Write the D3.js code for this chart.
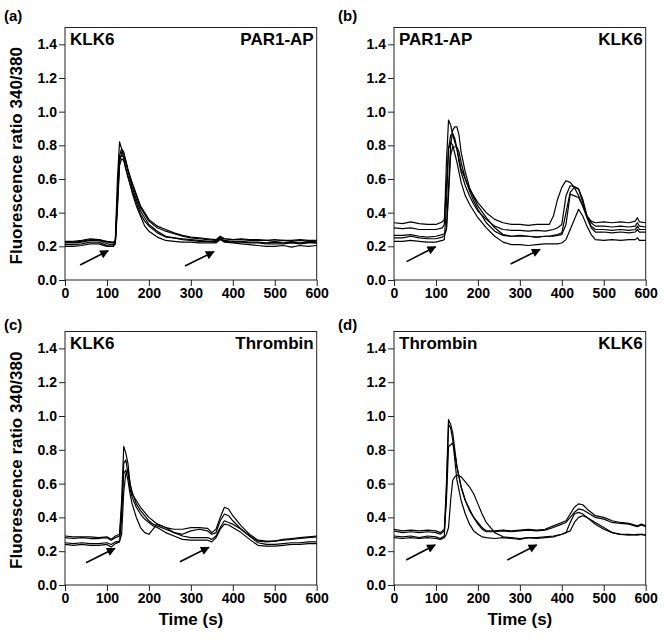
<!DOCTYPE html>
<html><head><meta charset="utf-8">
<script src="https://cdn.jsdelivr.net/npm/d3@7"></script>
<style>
html,body{margin:0;padding:0;background:#fff;}
svg{display:block;font-family:"Liberation Sans",Arial,sans-serif;font-weight:bold;}
</style></head>
<body><svg id="chart" width="671" height="644"></svg>
<script>
// ---------------- DATA ----------------
const panelTags = ["(a)", "(b)", "(c)", "(d)"];
const leftLabels = ["KLK6", "PAR1-AP", "KLK6", "Thrombin"];
const rightLabels = ["PAR1-AP", "KLK6", "Thrombin", "KLK6"];
const yTicks = [0, 0.2, 0.4, 0.6, 0.8, 1.0, 1.2, 1.4];
const xTicks = [0, 100, 200, 300, 400, 500, 600];
const yTitle = "Fluorescence ratio 340/380";
const xTitle = "Time (s)";

// Panel (a)
const timeA = [0,20,40,60,80,100,115,120,125,130,135,140,145,150,160,170,180,190,200,220,240,260,280,300,320,340,360,370,380,400,420,440,460,480,500,520,540,560,580,600];
const a1 = [0.22,0.22,0.225,0.235,0.235,0.215,0.21,0.24,0.60,0.82,0.78,0.72,0.66,0.62,0.52,0.44,0.38,0.32,0.29,0.255,0.235,0.23,0.225,0.225,0.22,0.22,0.22,0.24,0.225,0.22,0.215,0.21,0.205,0.20,0.20,0.205,0.195,0.205,0.20,0.205];
const a2 = [0.225,0.225,0.23,0.24,0.24,0.225,0.22,0.23,0.50,0.74,0.78,0.76,0.70,0.65,0.55,0.48,0.41,0.37,0.33,0.29,0.26,0.25,0.24,0.235,0.23,0.23,0.23,0.25,0.235,0.23,0.23,0.225,0.225,0.22,0.225,0.22,0.225,0.22,0.225,0.22];
const a3 = [0.21,0.21,0.215,0.225,0.225,0.205,0.20,0.22,0.45,0.70,0.76,0.75,0.71,0.66,0.57,0.50,0.43,0.39,0.35,0.31,0.29,0.275,0.26,0.25,0.245,0.24,0.235,0.255,0.245,0.24,0.24,0.235,0.235,0.235,0.23,0.235,0.23,0.235,0.23,0.23];
const a4 = [0.23,0.23,0.235,0.245,0.24,0.23,0.225,0.235,0.48,0.72,0.74,0.73,0.70,0.65,0.58,0.51,0.44,0.40,0.36,0.32,0.30,0.28,0.265,0.255,0.25,0.245,0.24,0.26,0.245,0.24,0.245,0.24,0.24,0.235,0.24,0.235,0.235,0.24,0.235,0.235];
const a5 = [0.20,0.20,0.205,0.215,0.215,0.20,0.20,0.215,0.42,0.68,0.72,0.71,0.66,0.61,0.53,0.46,0.39,0.35,0.32,0.28,0.255,0.25,0.245,0.24,0.235,0.23,0.225,0.245,0.23,0.225,0.225,0.22,0.22,0.215,0.215,0.215,0.22,0.215,0.22,0.22];
const arrowsA = [[36, 0.089, 103, 0.174], [286, 0.083, 355, 0.168]];

// Panel (b)
const timeB = [0,20,40,60,80,100,115,120,125,130,135,140,145,150,155,160,170,180,190,200,220,240,260,280,300,320,340,360,370,380,390,400,410,420,430,440,450,460,470,480,500,520,540,560,575,580,585,600];
const b1 = [0.34,0.335,0.345,0.335,0.33,0.33,0.345,0.36,0.55,0.78,0.86,0.87,0.84,0.78,0.72,0.66,0.60,0.54,0.50,0.46,0.40,0.36,0.34,0.33,0.33,0.325,0.33,0.33,0.33,0.38,0.48,0.55,0.59,0.58,0.55,0.50,0.44,0.38,0.35,0.34,0.345,0.34,0.345,0.34,0.35,0.37,0.345,0.34];
const b2 = [0.31,0.305,0.31,0.30,0.30,0.30,0.31,0.33,0.70,0.95,0.92,0.86,0.82,0.78,0.70,0.64,0.56,0.50,0.45,0.41,0.36,0.32,0.30,0.295,0.295,0.29,0.295,0.29,0.295,0.30,0.31,0.33,0.50,0.56,0.555,0.54,0.46,0.38,0.34,0.32,0.32,0.315,0.32,0.315,0.32,0.34,0.32,0.315];
const b3 = [0.265,0.265,0.27,0.26,0.255,0.26,0.27,0.275,0.30,0.55,0.80,0.89,0.91,0.91,0.86,0.76,0.64,0.55,0.49,0.44,0.37,0.31,0.27,0.26,0.265,0.26,0.255,0.26,0.26,0.265,0.27,0.28,0.40,0.52,0.55,0.54,0.48,0.38,0.32,0.30,0.30,0.295,0.30,0.295,0.30,0.32,0.30,0.30];
const b4 = [0.25,0.25,0.26,0.25,0.245,0.245,0.255,0.265,0.30,0.50,0.74,0.79,0.79,0.79,0.76,0.70,0.60,0.53,0.47,0.42,0.34,0.29,0.265,0.26,0.26,0.26,0.255,0.26,0.26,0.26,0.265,0.27,0.33,0.51,0.50,0.49,0.44,0.37,0.31,0.285,0.285,0.28,0.285,0.28,0.285,0.30,0.285,0.285];
const b5 = [0.23,0.23,0.235,0.23,0.225,0.225,0.235,0.24,0.45,0.78,0.82,0.80,0.75,0.70,0.64,0.58,0.50,0.45,0.41,0.37,0.31,0.26,0.225,0.21,0.21,0.205,0.21,0.215,0.215,0.215,0.215,0.22,0.24,0.30,0.36,0.42,0.38,0.32,0.27,0.24,0.235,0.24,0.235,0.24,0.24,0.25,0.235,0.235];
const arrowsB = [[30, 0.109, 99, 0.198], [278, 0.095, 348, 0.182]];

// Panel (c)
const timeC = [0,20,40,60,80,100,110,120,130,135,140,145,150,155,160,170,180,190,200,210,220,240,260,280,300,320,340,350,360,370,380,390,400,420,440,460,480,500,520,540,560,580,600];
const c1 = [0.29,0.285,0.285,0.285,0.28,0.285,0.27,0.29,0.30,0.50,0.82,0.78,0.72,0.60,0.54,0.50,0.46,0.43,0.40,0.38,0.36,0.34,0.33,0.33,0.34,0.34,0.335,0.31,0.33,0.40,0.46,0.45,0.41,0.35,0.30,0.265,0.26,0.26,0.27,0.275,0.28,0.285,0.29];
const c2 = [0.28,0.275,0.28,0.275,0.275,0.28,0.265,0.28,0.29,0.45,0.66,0.68,0.62,0.54,0.48,0.40,0.34,0.31,0.30,0.33,0.36,0.34,0.31,0.30,0.32,0.33,0.32,0.30,0.31,0.38,0.42,0.41,0.38,0.33,0.29,0.26,0.255,0.26,0.265,0.27,0.275,0.28,0.285];
const c3 = [0.25,0.245,0.25,0.245,0.245,0.25,0.24,0.255,0.26,0.30,0.55,0.66,0.68,0.60,0.55,0.48,0.44,0.41,0.38,0.36,0.35,0.33,0.31,0.29,0.28,0.28,0.28,0.27,0.29,0.34,0.38,0.37,0.36,0.33,0.29,0.25,0.24,0.24,0.245,0.25,0.25,0.255,0.255];
const c4 = [0.24,0.235,0.24,0.235,0.235,0.24,0.225,0.245,0.255,0.40,0.72,0.74,0.66,0.57,0.52,0.46,0.42,0.39,0.37,0.35,0.34,0.31,0.29,0.27,0.265,0.265,0.265,0.255,0.28,0.33,0.36,0.355,0.34,0.31,0.27,0.235,0.23,0.23,0.235,0.24,0.24,0.245,0.245];
const arrowsC = [[50, 0.132, 119, 0.217], [274, 0.138, 343, 0.223]];

// Panel (d)
const timeD = [0,20,40,60,80,100,110,120,125,130,135,140,145,150,160,170,180,190,200,210,220,240,260,280,300,320,340,360,380,400,410,420,430,440,450,460,480,500,520,540,560,580,590,600];
const d1 = [0.33,0.32,0.325,0.32,0.325,0.32,0.31,0.33,0.60,0.98,0.95,0.90,0.80,0.70,0.58,0.50,0.45,0.40,0.37,0.34,0.32,0.32,0.325,0.32,0.325,0.33,0.325,0.33,0.35,0.37,0.38,0.42,0.46,0.48,0.475,0.45,0.41,0.40,0.38,0.37,0.365,0.35,0.36,0.35];
const d2 = [0.32,0.31,0.315,0.31,0.315,0.31,0.30,0.32,0.50,0.82,0.83,0.84,0.78,0.70,0.58,0.50,0.44,0.40,0.36,0.33,0.315,0.315,0.32,0.315,0.32,0.325,0.32,0.325,0.34,0.36,0.37,0.40,0.43,0.45,0.445,0.43,0.40,0.39,0.37,0.365,0.36,0.345,0.355,0.345];
const d3v = [0.29,0.285,0.29,0.28,0.29,0.285,0.275,0.29,0.55,0.95,0.93,0.86,0.74,0.62,0.50,0.42,0.36,0.32,0.30,0.285,0.28,0.275,0.28,0.275,0.27,0.28,0.28,0.285,0.29,0.30,0.31,0.37,0.42,0.43,0.42,0.40,0.36,0.33,0.31,0.30,0.295,0.30,0.30,0.295];
const d4 = [0.28,0.275,0.28,0.275,0.28,0.275,0.27,0.28,0.30,0.34,0.50,0.62,0.64,0.65,0.64,0.61,0.58,0.54,0.48,0.42,0.37,0.31,0.285,0.28,0.275,0.28,0.275,0.28,0.285,0.30,0.31,0.32,0.37,0.40,0.41,0.40,0.37,0.34,0.31,0.30,0.30,0.295,0.30,0.295];
const arrowsD = [[29, 0.148, 98, 0.237], [270, 0.148, 340, 0.237]];

// ---------------- LAYOUT ----------------
const layout = [
  {x0: 65,  x1: 316.7, yb: 280, yt: 27.5, time: timeA, series: [a1,a2,a3,a4,a5], arrows: arrowsA, tagX: 4,   tagY: 21, xTitle: false, yTitle: true},
  {x0: 394, x1: 645.7, yb: 280, yt: 27.5, time: timeB, series: [b1,b2,b3,b4,b5], arrows: arrowsB, tagX: 338, tagY: 21, xTitle: false, yTitle: false},
  {x0: 65,  x1: 316.7, yb: 585, yt: 331.5, time: timeC, series: [c1,c2,c3,c4], arrows: arrowsC, tagX: 4,   tagY: 330, xTitle: true, yTitle: true},
  {x0: 394, x1: 645.7, yb: 585, yt: 331.5, time: timeD, series: [d1,d2,d3v,d4], arrows: arrowsD, tagX: 338, tagY: 330, xTitle: true, yTitle: false}
];

const svg = d3.select("#chart");
const defs = svg.append("defs");
defs.append("marker").attr("id","ah").attr("viewBox","0 0 10 10")
  .attr("refX",9).attr("refY",5).attr("markerWidth",7).attr("markerHeight",5.5)
  .attr("markerUnits","strokeWidth").attr("orient","auto")
  .append("path").attr("d","M0,0 L10,5 L0,10 Z").attr("fill","#000");

layout.forEach((p, i) => {
  const x = d3.scaleLinear().domain([0, 600]).range([p.x0, p.x1]);
  const y = d3.scaleLinear().domain([0, 1.5]).range([p.yb, p.yt]);
  const g = svg.append("g");

  g.append("rect").attr("x", p.x0).attr("y", p.yt)
    .attr("width", p.x1 - p.x0).attr("height", p.yb - p.yt)
    .attr("fill", "none").attr("stroke", "#222").attr("stroke-width", 1);

  const ya = g.append("g").attr("transform", `translate(${p.x0},0)`)
    .call(d3.axisLeft(y).tickValues(yTicks).tickFormat(d3.format(".1f")).tickSize(6).tickPadding(2));
  const xa = g.append("g").attr("transform", `translate(0,${p.yb})`)
    .call(d3.axisBottom(x).tickValues(xTicks).tickFormat(d3.format("d")).tickSize(6).tickPadding(2));
  [ya, xa].forEach(a => {
    a.select(".domain").remove();
    a.selectAll("line").attr("stroke", "#222");
    a.selectAll("text").attr("fill", "#000").attr("font-size", 14)
      .attr("font-family", '"Liberation Sans", Arial, sans-serif').attr("font-weight", "bold");
  });

  const line = d3.line().x((d, k) => x(p.time[k])).y(d => y(d));
  p.series.forEach(s => {
    g.append("path").datum(s).attr("d", line)
      .attr("fill", "none").attr("stroke", "#000").attr("stroke-width", 1.2)
      .attr("stroke-linejoin", "round");
  });

  p.arrows.forEach(a => {
    g.append("line").attr("x1", x(a[0])).attr("y1", y(a[1]))
      .attr("x2", x(a[2])).attr("y2", y(a[3]))
      .attr("stroke", "#000").attr("stroke-width", 1.6).attr("marker-end", "url(#ah)");
  });

  g.append("text").attr("x", p.x0 + 5).attr("y", p.yt + 17.5)
    .attr("font-size", 17).text(leftLabels[i]);
  g.append("text").attr("x", p.x1 - 3).attr("y", p.yt + 17.5)
    .attr("font-size", 17).attr("text-anchor", "end").text(rightLabels[i]);

  svg.append("text").attr("x", p.tagX).attr("y", p.tagY).attr("font-size", 15).text(panelTags[i]);

  if (p.yTitle) {
    const cy = (p.yb + p.yt) / 2 + 2;
    svg.append("text").attr("transform", `translate(22,${cy}) rotate(-90)`)
      .attr("text-anchor", "middle").attr("font-size", 17).text(yTitle);
  }
  if (p.xTitle) {
    svg.append("text").attr("x", (p.x0 + p.x1) / 2).attr("y", 625)
      .attr("text-anchor", "middle").attr("font-size", 17).text(xTitle);
  }
});
</script>
</body></html>
